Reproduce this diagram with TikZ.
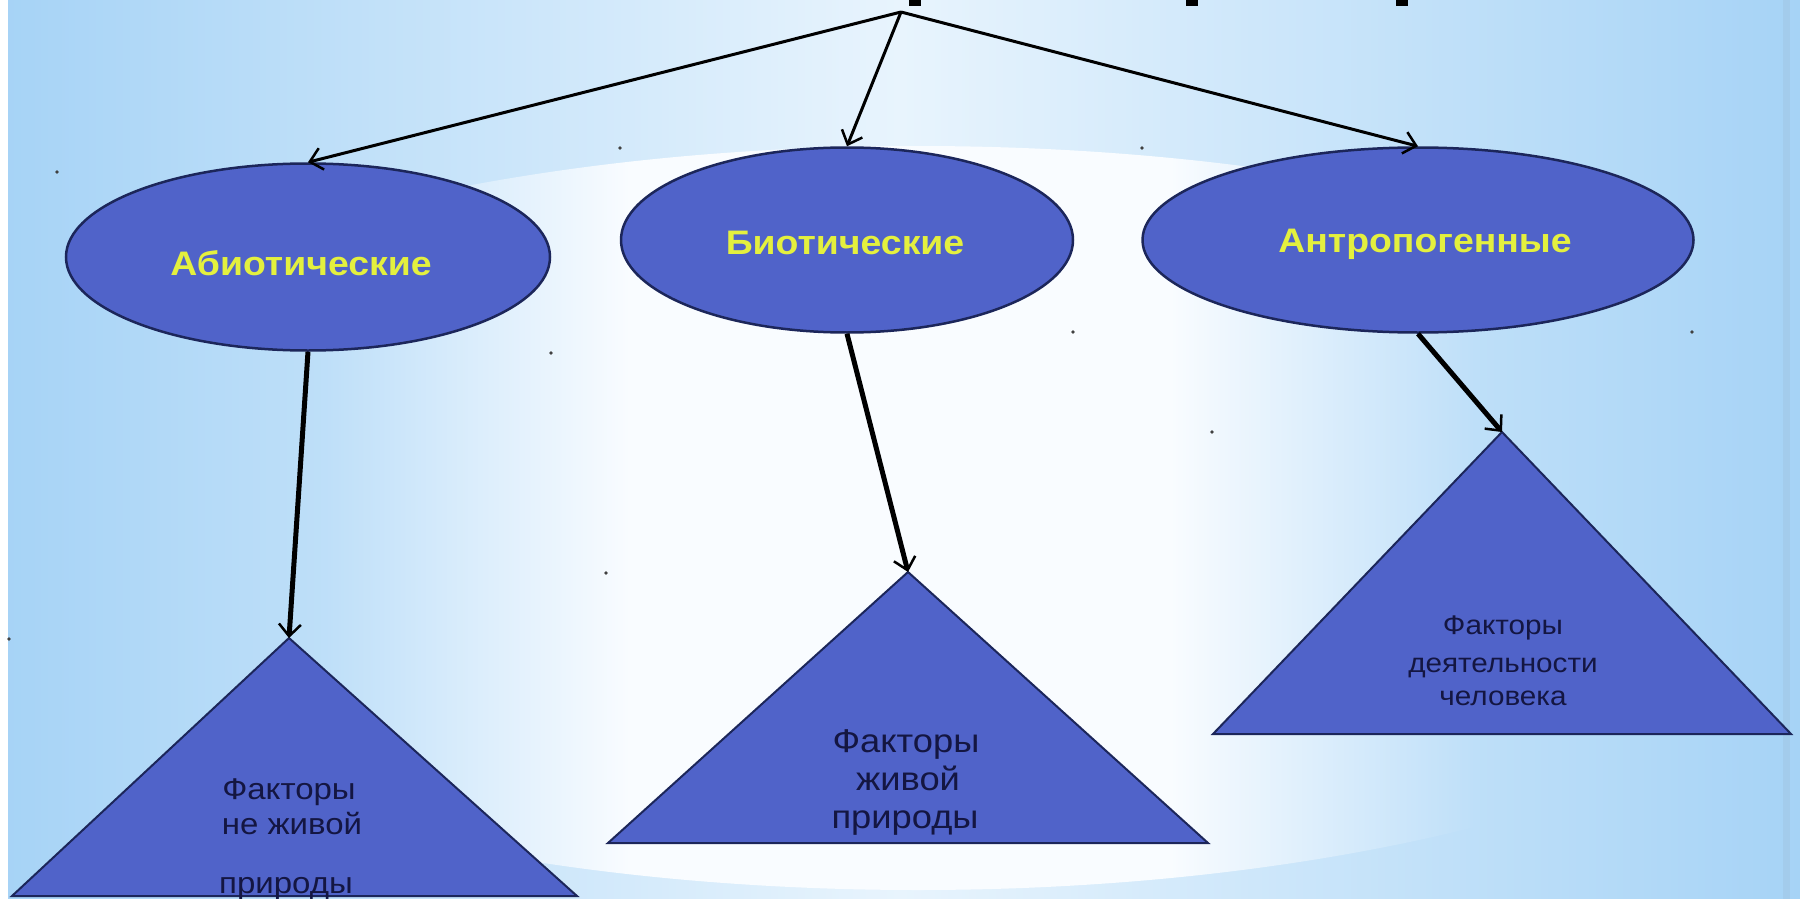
\documentclass[tikz,border=0pt]{standalone}
\usepackage{fontspec}
\setmainfont{Liberation Sans}
\newfontfamily\widesans[FakeStretch=1.1]{Liberation Sans}
\usetikzlibrary{shapes.geometric,arrows.meta}
\definecolor{bgblue}{RGB}{166,211,246}
\definecolor{bgwhite}{RGB}{232,244,253}
\definecolor{glowwhite}{RGB}{249,252,255}
\definecolor{shapefill}{RGB}{80,99,201}
\definecolor{shapeline}{RGB}{28,38,90}
\definecolor{ylw}{RGB}{228,240,62}
\definecolor{navytext}{RGB}{20,22,66}
\colorlet{bgmid}{bgblue!64!bgwhite}
% TikZ maps the 25bp..75bp part of a shading onto the path
\pgfdeclarehorizontalshading{bgshade}{100bp}{color(0bp)=(bgblue); color(25bp)=(bgblue); color(50bp)=(bgwhite); color(75bp)=(bgblue); color(100bp)=(bgblue)}
\pgfdeclarehorizontalshading{glowshade}{100bp}{color(0bp)=(bgblue); color(25bp)=(bgblue); color(34bp)=(bgmid); color(42.5bp)=(glowwhite); color(57.5bp)=(glowwhite); color(66bp)=(bgmid); color(75bp)=(bgblue); color(100bp)=(bgblue)}
\begin{document}
\begin{tikzpicture}[x=1pt,y=-1pt,
  oval/.style={ellipse, draw=shapeline, line width=2.5pt, fill=shapefill, inner sep=0pt},
  ovaltext/.style={text=ylw, inner sep=0pt, font=\widesans\fontsize{34}{40}\selectfont\bfseries},
  tri/.style={draw=shapeline, line width=2pt, fill=shapefill, line join=miter},
  tritext/.style={text=navytext, inner sep=0pt, anchor=base},
  toparrow/.style={draw=black, line width=3pt, -{Straight Barb[length=12pt,width=22pt,line width=2.5pt]}},
  downarrow/.style={draw=black, line width=5pt, -{Straight Barb[length=12pt,width=22pt,line width=2.5pt]}},
  handle/.style={fill=black!75}]
\useasboundingbox (0,0) rectangle (1800,899);
% background
\shade[shading=bgshade] (0,0) rectangle (1800,899);
\begin{scope}
  \clip (918,518) ellipse [x radius=1000pt, y radius=372pt];
  \shade[shading=glowshade] (0,0) rectangle (1800,899);
\end{scope}
\fill[white] (0,0) rectangle (8,899);
\fill[bgblue!80!gray, opacity=0.4] (1783,0) rectangle (1790,899);
% cut-off title marks
\fill[black] (909,0) rectangle (921,6);
\fill[black] (1186,0) rectangle (1198,6);
\fill[black] (1396,0) rectangle (1408,6);
% ellipses
\node[oval, minimum width=484pt, minimum height=187pt] (e1) at (308,257) {};
\node[oval, minimum width=452pt, minimum height=185pt] (e2) at (847,240) {};
\node[oval, minimum width=551pt, minimum height=185pt] (e3) at (1418,240) {};
\node[ovaltext] (l1) at (301,263) {Абиотические};
\node[ovaltext] (l2) at (845,243) {Биотические};
\node[ovaltext] (l3) at (1425,244) {Антропогенные};
% triangles
\coordinate (t1) at (289,638);
\coordinate (t2) at (908,572);
\coordinate (t3) at (1502,432);
\draw[tri] (t1) -- (577,896) -- (12,896) -- cycle;
\draw[tri] (t2) -- (1208,843) -- (608,843) -- cycle;
\draw[tri] (t3) -- (1791,734) -- (1213,734) -- cycle;
\begin{scope}[every node/.append style={font=\widesans\fontsize{30}{36}\selectfont}]
\node[tritext] (x1a) at (289,799) {Факторы};
\node[tritext] (x1b) at (292,834) {не живой};
\node[tritext] (x1c) at (286,893) {природы};
\end{scope}
\begin{scope}[every node/.append style={font=\widesans\fontsize{33}{40}\selectfont}]
\node[tritext] (x2a) at (906,752) {Факторы};
\node[tritext] (x2b) at (908,790) {живой};
\node[tritext] (x2c) at (905,828) {природы};
\end{scope}
\begin{scope}[every node/.append style={font=\widesans\fontsize{27}{34}\selectfont}]
\node[tritext] (x3a) at (1503,634) {Факторы};
\node[tritext] (x3b) at (1503,672) {деятельности};
\node[tritext] (x3c) at (1503,705) {человека};
\end{scope}
% connectors
\coordinate (top) at (901,12);
\draw[toparrow] (top) -- (e1.north);
\draw[toparrow] (top) -- (e2.north);
\draw[toparrow] (top) -- (e3.north);
\draw[downarrow] (e1.south) -- (t1);
\draw[downarrow] (e2.south) -- (t2);
\draw[downarrow] (e3.south) -- (t3);
% selection handles
\foreach \p in {(57,172),(620,148),(1142,148),(551,353),(1073,332),(1692,332),(606,573),(1212,432),(9,639)}
  \fill[handle] \p circle[radius=1.8pt];
\end{tikzpicture}
\end{document}
